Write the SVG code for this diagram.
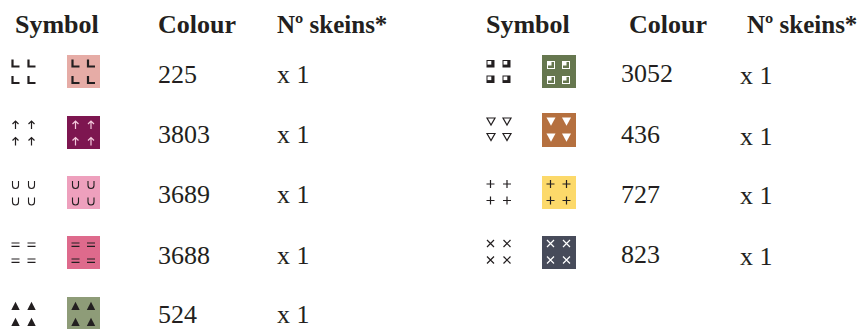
<svg xmlns="http://www.w3.org/2000/svg" xmlns:xlink="http://www.w3.org/1999/xlink" width="860" height="329" viewBox="0 0 860 329">
<style>
text{font-family:"Liberation Serif","Times New Roman",serif;fill:#231f20}
.h{font-size:26px;font-weight:bold}
.hs{font-size:25px;font-weight:bold}
.n{font-size:26px}
.k{stroke:#231f20;fill:none}
.w{stroke:#ffffff;fill:none}
</style>
<defs>
<g id="gL"><path d="M-3,-4V3H4" stroke-width="2.2"/></g>
<g id="gArrow"><path d="M0,4V-4M-3,-1L0,-4L3,-1" stroke-width="1.2"/></g>
<g id="gU"><path d="M-3,-4V0.5A3,3 0 0 0 3,0.5V-4" stroke-width="1.1"/></g>
<g id="gEq"><path d="M-4,-1.5H4M-4,1.8H4" stroke-width="1.2"/></g>
<g id="gPlus"><path d="M-4,0H4M0,-4V4" stroke-width="1.2"/></g>
<g id="gX"><path d="M-3.5,-3.5L3.5,3.5M3.5,-3.5L-3.5,3.5" stroke-width="1.2"/></g>
<g id="gTriDown"><path d="M-4,-3.5H4L0,3.5Z" stroke-width="1.2"/></g>
<path id="gTriUp" d="M-4.2,4H4.2L0,-4.2Z"/>
<path id="gTriDownFill" d="M-4.5,-4H4.5L0,4.2Z"/>
</defs>

<g id="headers">
<text class="h" x="15" y="33">Symbol</text>
<text class="h" x="158" y="33">Colour</text>
<text class="hs" x="277" y="33">Nº skeins*</text>
<text class="h" x="486" y="33">Symbol</text>
<text class="h" x="629" y="33">Colour</text>
<text class="hs" x="747" y="33">Nº skeins*</text>
</g>

<!-- Left column -->
<g id="row-225">
<g class="k"><use href="#gL" x="15.5" y="63.5"/><use href="#gL" x="31.5" y="63.5"/><use href="#gL" x="15.5" y="80"/><use href="#gL" x="31.5" y="80"/></g>
<rect x="67" y="55" width="33" height="33" fill="#e6aca6"/>
<g class="k"><use href="#gL" x="75.5" y="63.5"/><use href="#gL" x="91" y="63.5"/><use href="#gL" x="75.5" y="80"/><use href="#gL" x="91" y="80"/></g>
<text class="n" x="158" y="83">225</text>
<text class="n" x="277" y="83">x 1</text>
</g>

<g id="row-3803">
<g class="k"><use href="#gArrow" x="15.5" y="125"/><use href="#gArrow" x="31.5" y="125"/><use href="#gArrow" x="15.5" y="141.5"/><use href="#gArrow" x="31.5" y="141.5"/></g>
<rect x="67" y="116" width="33" height="33" fill="#7d1650"/>
<g style="stroke:#f3c9dc;fill:none"><use href="#gArrow" x="75.5" y="125"/><use href="#gArrow" x="91" y="125"/><use href="#gArrow" x="75.5" y="141.5"/><use href="#gArrow" x="91" y="141.5"/></g>
<text class="n" x="158" y="143">3803</text>
<text class="n" x="277" y="143">x 1</text>
</g>

<g id="row-3689">
<g class="k"><use href="#gU" x="15.5" y="185"/><use href="#gU" x="31.5" y="185"/><use href="#gU" x="15.5" y="201.5"/><use href="#gU" x="31.5" y="201.5"/></g>
<rect x="67" y="176" width="33" height="33" fill="#eea0bd"/>
<g class="k"><use href="#gU" x="75.5" y="185"/><use href="#gU" x="91" y="185"/><use href="#gU" x="75.5" y="201.5"/><use href="#gU" x="91" y="201.5"/></g>
<text class="n" x="158" y="203">3689</text>
<text class="n" x="277" y="203">x 1</text>
</g>

<g id="row-3688">
<g class="k"><use href="#gEq" x="15.5" y="244.5"/><use href="#gEq" x="31.5" y="244.5"/><use href="#gEq" x="15.5" y="260.5"/><use href="#gEq" x="31.5" y="260.5"/></g>
<rect x="67" y="236" width="33" height="33" fill="#de6a8c"/>
<g class="k"><use href="#gEq" x="75.5" y="244.5"/><use href="#gEq" x="91" y="244.5"/><use href="#gEq" x="75.5" y="260.5"/><use href="#gEq" x="91" y="260.5"/></g>
<text class="n" x="158" y="264">3688</text>
<text class="n" x="277" y="264">x 1</text>
</g>

<g id="row-524">
<g fill="#231f20"><use href="#gTriUp" x="15.5" y="306"/><use href="#gTriUp" x="31.5" y="306"/><use href="#gTriUp" x="15.5" y="322"/><use href="#gTriUp" x="31.5" y="322"/></g>
<rect x="67" y="297" width="33" height="33" fill="#8e9c78"/>
<g fill="#231f20"><use href="#gTriUp" x="75.5" y="306"/><use href="#gTriUp" x="91" y="306"/><use href="#gTriUp" x="75.5" y="322"/><use href="#gTriUp" x="91" y="322"/></g>
<text class="n" x="158" y="323">524</text>
<text class="n" x="277" y="323">x 1</text>
</g>

<!-- Right column -->
<g id="row-3052">
<g>
<rect x="486.5" y="60" width="8" height="7.5" fill="#231f20"/><rect x="487.5" y="61" width="3.8" height="3.6" fill="#fff"/>
<rect x="502.5" y="60" width="8" height="7.5" fill="#231f20"/><rect x="503.5" y="61" width="3.8" height="3.6" fill="#fff"/>
<rect x="486.5" y="75.5" width="8" height="7.5" fill="#231f20"/><rect x="487.5" y="76.5" width="3.8" height="3.6" fill="#fff"/>
<rect x="502.5" y="75.5" width="8" height="7.5" fill="#231f20"/><rect x="503.5" y="76.5" width="3.8" height="3.6" fill="#fff"/>
</g>
<rect x="542" y="55" width="34" height="33" fill="#66774f"/>
<g fill="none" stroke="#fff" stroke-width="1">
<rect x="547.5" y="61.5" width="7" height="7"/><rect x="562.5" y="61.5" width="7" height="7"/>
<rect x="547.5" y="76.5" width="7" height="7"/><rect x="562.5" y="76.5" width="7" height="7"/>
</g>
<g fill="#fff">
<rect x="548" y="62" width="3.5" height="3.5"/><rect x="563" y="62" width="3.5" height="3.5"/>
<rect x="548" y="77" width="3.5" height="3.5"/><rect x="563" y="77" width="3.5" height="3.5"/>
</g>
<text class="n" x="621" y="82">3052</text>
<text class="n" x="740" y="83.5">x 1</text>
</g>

<g id="row-436">
<g class="k"><use href="#gTriDown" x="491" y="121.5"/><use href="#gTriDown" x="507" y="121.5"/><use href="#gTriDown" x="491" y="137"/><use href="#gTriDown" x="507" y="137"/></g>
<rect x="542" y="113" width="34" height="34" fill="#b5703f"/>
<g fill="#fff"><use href="#gTriDownFill" x="551" y="121.5"/><use href="#gTriDownFill" x="566.5" y="121.5"/><use href="#gTriDownFill" x="551" y="137.5"/><use href="#gTriDownFill" x="566.5" y="137.5"/></g>
<text class="n" x="621" y="143">436</text>
<text class="n" x="740" y="145">x 1</text>
</g>

<g id="row-727">
<g class="k"><use href="#gPlus" x="490.5" y="184"/><use href="#gPlus" x="507" y="184"/><use href="#gPlus" x="490.5" y="200.5"/><use href="#gPlus" x="507" y="200.5"/></g>
<rect x="542" y="176" width="34" height="33" fill="#fcd96a"/>
<g class="k"><use href="#gPlus" x="550.5" y="184"/><use href="#gPlus" x="566.5" y="184"/><use href="#gPlus" x="550.5" y="200.5"/><use href="#gPlus" x="566.5" y="200.5"/></g>
<text class="n" x="621" y="203">727</text>
<text class="n" x="740" y="204">x 1</text>
</g>

<g id="row-823">
<g class="k"><use href="#gX" x="490.5" y="243.5"/><use href="#gX" x="507" y="243.5"/><use href="#gX" x="490.5" y="260"/><use href="#gX" x="507" y="260"/></g>
<rect x="542" y="236" width="34" height="33" fill="#474b5a"/>
<g class="w"><use href="#gX" x="550.5" y="243.5"/><use href="#gX" x="566.5" y="243.5"/><use href="#gX" x="550.5" y="260"/><use href="#gX" x="566.5" y="260"/></g>
<text class="n" x="621" y="263">823</text>
<text class="n" x="740" y="265">x 1</text>
</g>
</svg>
